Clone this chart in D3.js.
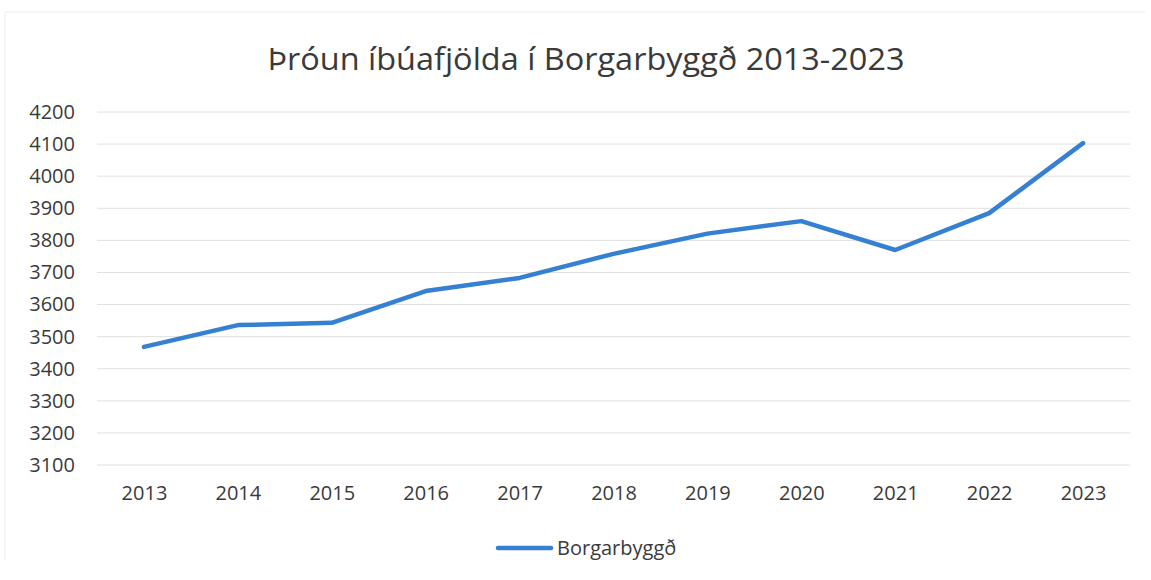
<!DOCTYPE html>
<html>
<head>
<meta charset="utf-8">
<script src="https://cdn.jsdelivr.net/npm/d3@7"></script>
<style>
  body { margin: 0; background: #fff; }
  text { font-family: "Open Sans", "Noto Sans", sans-serif; fill: #3a3a3a; }
</style>
</head>
<body>
<div id="chart"></div>
<script>
const years = ['2013', '2014', '2015', '2016', '2017', '2018', '2019', '2020', '2021', '2022', '2023']
const population = [3468, 3536, 3543, 3642, 3683, 3758, 3821, 3860, 3770, 3885, 4103]
const yTicks = [3100, 3200, 3300, 3400, 3500, 3600, 3700, 3800, 3900, 4000, 4100, 4200]
const seriesName = 'Borgarbyggð'
const title = 'Þróun íbúafjölda í Borgarbyggð 2013-2023'

let width = 1151
let height = 580
let plotLeft = 97, plotRight = 1130, plotTop = 112, plotBottom = 465

let svg = d3.select('#chart')
  .append('svg')
  .attr('width', width)
  .attr('height', height)

// faint chart frame from the scan
svg.append('path')
  .attr('d', 'M5,560 V12 H1145')
  .attr('fill', 'none')
  .attr('stroke', '#ececec')
  .attr('stroke-width', 1)

let x = d3.scalePoint()
  .domain(years)
  .range([plotLeft, plotRight])
  .padding(0.5)

let y = d3.scaleLinear()
  .domain([3100, 4200])
  .range([plotBottom, plotTop])

// gridlines
svg.append('g')
  .selectAll('line')
  .data(yTicks)
  .enter()
  .append('line')
  .attr('x1', plotLeft)
  .attr('x2', plotRight)
  .attr('y1', d => y(d))
  .attr('y2', d => y(d))
  .attr('stroke', '#e0e0e0')
  .attr('stroke-width', 1)

// y axis labels
let yAxis = svg.append('g')
  .attr('transform', 'translate(' + (plotLeft - 22) + ', 0)')
  .call(d3.axisLeft(y).tickValues(yTicks).tickSize(0).tickPadding(0).tickFormat(d3.format('d')))
yAxis.select('.domain').remove()
yAxis.selectAll('text')
  .attr('font-size', 20)
  .attr('font-family', '"Open Sans", sans-serif')
  .attr('fill', '#3a3a3a')

// x axis labels
let xAxis = svg.append('g')
  .attr('transform', 'translate(0, ' + (plotBottom + 21) + ')')
  .call(d3.axisBottom(x).tickSize(0).tickPadding(0))
xAxis.select('.domain').remove()
xAxis.selectAll('text')
  .attr('font-size', 20)
  .attr('font-family', '"Open Sans", sans-serif')
  .attr('fill', '#3a3a3a')

// series line
let line = d3.line()
  .x((d, i) => x(years[i]))
  .y(d => y(d))

svg.append('path')
  .datum(population)
  .attr('d', line)
  .attr('fill', 'none')
  .attr('stroke', '#3580d2')
  .attr('stroke-width', 4.5)
  .attr('stroke-linejoin', 'round')
  .attr('stroke-linecap', 'round')

// title
svg.append('text')
  .attr('x', 586)
  .attr('y', 70)
  .attr('text-anchor', 'middle')
  .attr('font-size', 31)
  .attr('textLength', 637)
  .attr('lengthAdjust', 'spacingAndGlyphs')
  .attr('fill', '#3a3a3a')
  .text(title)

// legend
svg.append('line')
  .attr('x1', 498)
  .attr('x2', 551)
  .attr('y1', 548)
  .attr('y2', 548)
  .attr('stroke', '#3580d2')
  .attr('stroke-width', 4.5)
  .attr('stroke-linecap', 'round')

svg.append('text')
  .attr('x', 557)
  .attr('y', 555)
  .attr('font-size', 20)
  .attr('fill', '#3a3a3a')
  .text(seriesName)
</script>
</body>
</html>
